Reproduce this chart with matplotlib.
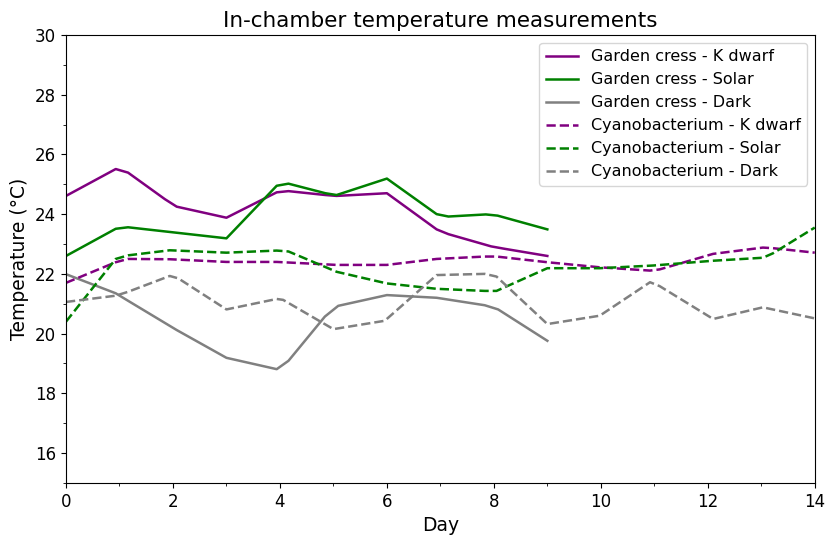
import numpy as np
import matplotlib
matplotlib.use("Agg")
import matplotlib.pyplot as plt
from matplotlib.ticker import MultipleLocator

# -------------------------
# Data
# -------------------------
gc_kdwarf_day = [0, 0.93, 1.16, 1.85, 2.07, 3.0, 3.94, 4.16, 4.85, 5.06, 6.0, 6.93, 7.15, 7.95, 8.2, 9.0]
gc_kdwarf_temp = [24.61, 25.51, 25.39, 24.50, 24.25, 23.88, 24.73, 24.77, 24.64, 24.61, 24.70, 23.49, 23.33, 22.92, 22.84, 22.60]

gc_solar_day = [0, 0.93, 1.16, 3.0, 3.94, 4.16, 4.85, 5.06, 6.0, 6.93, 7.15, 7.85, 8.07, 9.0]
gc_solar_temp = [22.60, 23.51, 23.56, 23.19, 24.95, 25.02, 24.70, 24.64, 25.19, 24.00, 23.92, 23.99, 23.95, 23.49]

gc_dark_day = [0, 0.93, 1.16, 2.07, 3.0, 3.94, 4.16, 4.84, 5.09, 6.0, 6.93, 7.83, 8.08, 9.0]
gc_dark_temp = [21.99, 21.35, 21.10, 20.12, 19.19, 18.81, 19.09, 20.57, 20.93, 21.29, 21.20, 20.95, 20.81, 19.76]

cy_kdwarf_day = [0, 0.93, 1.16, 1.94, 3.0, 3.94, 5.06, 6.0, 6.93, 7.83, 8.05, 9.0, 9.98, 10.92, 11.1, 12.1, 13.03, 13.22, 14.0]
cy_kdwarf_temp = [21.70, 22.39, 22.50, 22.49, 22.40, 22.40, 22.30, 22.30, 22.50, 22.58, 22.58, 22.39, 22.22, 22.11, 22.15, 22.67, 22.88, 22.86, 22.71]

cy_solar_day = [0, 0.93, 1.16, 1.94, 3.0, 3.94, 4.16, 5.06, 6.0, 6.93, 7.83, 8.05, 9.0, 9.98, 10.98, 12.1, 13.03, 13.22, 14.0]
cy_solar_temp = [20.40, 22.50, 22.62, 22.79, 22.71, 22.78, 22.75, 22.07, 21.68, 21.50, 21.43, 21.43, 22.19, 22.19, 22.28, 22.44, 22.54, 22.69, 23.55]

cy_dark_day = [0, 0.93, 1.16, 1.94, 2.1, 3.0, 3.94, 4.06, 5.0, 5.96, 6.93, 7.83, 8.05, 9.0, 9.98, 10.92, 11.1, 12.1, 13.03, 14.0]
cy_dark_temp = [21.06, 21.27, 21.40, 21.93, 21.85, 20.81, 21.16, 21.13, 20.15, 20.43, 21.96, 22.00, 21.91, 20.32, 20.60, 21.72, 21.59, 20.49, 20.88, 20.51]

# -------------------------
# Plot
# -------------------------
fig, ax = plt.subplots(figsize=(8.28, 5.37), dpi=100)
fig.subplots_adjust(left=0.0797, right=0.984, top=0.935, bottom=0.1006)

lw = 1.8
ax.plot(gc_kdwarf_day, gc_kdwarf_temp, color='purple', lw=lw, label='Garden cress - K dwarf')
ax.plot(gc_solar_day, gc_solar_temp, color='green', lw=lw, label='Garden cress - Solar')
ax.plot(gc_dark_day, gc_dark_temp, color='grey', lw=lw, label='Garden cress - Dark')
ax.plot(cy_kdwarf_day, cy_kdwarf_temp, color='purple', lw=lw, ls='--', label='Cyanobacterium - K dwarf')
ax.plot(cy_solar_day, cy_solar_temp, color='green', lw=lw, ls='--', label='Cyanobacterium - Solar')
ax.plot(cy_dark_day, cy_dark_temp, color='grey', lw=lw, ls='--', label='Cyanobacterium - Dark')

ax.set_xlim(0, 14)
ax.set_ylim(15, 30)
ax.xaxis.set_major_locator(MultipleLocator(2))
ax.xaxis.set_minor_locator(MultipleLocator(1))
ax.yaxis.set_major_locator(MultipleLocator(2))
ax.yaxis.set_minor_locator(MultipleLocator(1))
ax.tick_params(labelsize=12)

ax.set_xlabel('Day', fontsize=13.5)
ax.set_ylabel('Temperature (°C)', fontsize=13.5)
ax.set_title('In-chamber temperature measurements', fontsize=15.5)
ax.legend(loc='upper right', fontsize=11.5)

plt.savefig('out.png', dpi=100)
plt.close()
